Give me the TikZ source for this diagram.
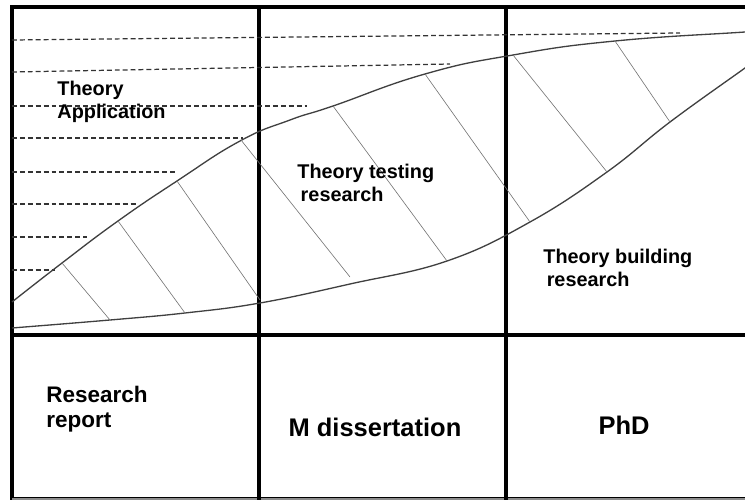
\documentclass[tikz,border=0pt]{standalone}
\usepackage{fontspec}
\setmainfont{Liberation Sans}
\usetikzlibrary{positioning}

\begin{document}
\begin{tikzpicture}[x=0.02cm, y=-0.02cm, line width=0.5pt,
  frameline/.style={line width=2pt, black},
  curveline/.style={line width=0.75pt, black!75},
  hatchline/.style={line width=0.35pt, black!55},
  levelline/.style={dash pattern=on 2.8pt off 1.7pt, line width=0.7pt, black!80},
  typelabel/.style={anchor=base west, align=left, inner sep=0pt, font=\fontsize{11.3}{13.6}\selectfont\bfseries},
  degreelabel/.style={anchor=base, inner sep=0pt, font=\fontsize{14.5}{17}\selectfont\bfseries}]
  \useasboundingbox (0,0) rectangle (745,500);
  \clip (0,0) rectangle (745,500);
  % table frame: three columns, band on top, degree row below
  \draw[frameline] (12,7) rectangle (760,499);
  \draw[line width=0.6pt, black!45] (12,499) -- (745,499);
  \draw[frameline] (12,335) -- (760,335);
  \draw[frameline] (259,7) -- (259,505);
  \draw[frameline] (506,7) -- (506,505);
  % theory application levels (dashed, up to the upper curve)
  \draw[levelline] (12,40) -- (680,33);
  \draw[levelline] (12,72) -- (450,64);
  \foreach \y/\xe in {106/307, 138/243, 172/177, 204/137, 237/87, 270/55}
    \draw[levelline] (12,\y) -- (\xe,\y);
  % the band between the two curves
  \draw[curveline] plot[smooth, tension=0.8] coordinates {(12,302) (62,263) (118,221) (177,181) (240,141) (290,120) (333,106) (425,74) (513,55) (615,41) (745,32) (770,30)};
  \draw[curveline] plot[smooth, tension=0.7] coordinates {(12,328) (110,320) (185,313) (260,303) (350,284) (447,261) (530,222) (607,172) (670,122) (745,68) (760,57)};
  % hatching across the band
  \foreach \xa/\ya/\xb/\yb in {62/263/110/320, 118/221/185/313, 177/181/260/300, 241/140/350/277,
                               333/106/447/261, 425/74/530/222, 513/55/607/172, 615/41/670/122}
    \draw[hatchline] (\xa,\ya) -- (\xb,\yb);
  % labels (anchored on the baseline of their last line)
  \node[typelabel] (application) at (57,119) {Theory\\Application};
  \node[typelabel] (testing) at (297,202) {Theory testing\\\,research};
  \node[typelabel] (building) at (543,287) {Theory building\\\,research};
  \node[typelabel, font=\fontsize{12.8}{14.7}\selectfont\bfseries] (report) at (46,428) {Research\\report};
  \node[degreelabel] (masters) at (375,437) {M dissertation};
  \node[degreelabel] (phd) at (624,435) {PhD};
\end{tikzpicture}
\end{document}
